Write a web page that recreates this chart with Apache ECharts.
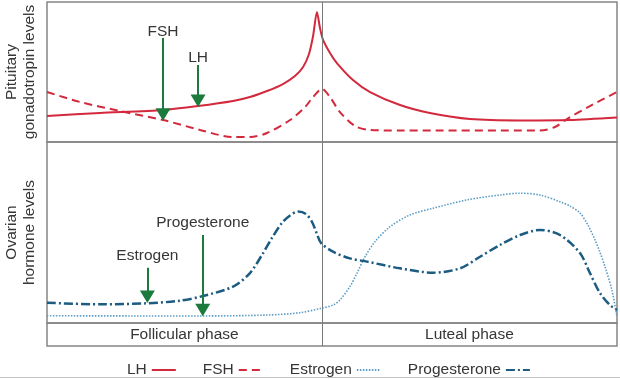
<!DOCTYPE html>
<html>
<head>
<meta charset="utf-8">
<script src="https://cdn.jsdelivr.net/npm/echarts@6/dist/echarts.min.js"></script>
<style>
html,body{margin:0;padding:0;background:#fff;}
#chart{width:620px;height:379px;}
</style>
</head>
<body>
<div id="chart"></div>
<script>
// ---- data (cycle day, relative level 0-100) ----
const cycleStart = 0;
const cycleEnd = 28;
const phaseBoundary = 13.5;
const phaseLabels = ['Follicular phase', 'Luteal phase'];
const legendNames = ['LH', 'FSH', 'Estrogen', 'Progesterone'];
const topAxisName = 'Pituitary\ngonadotropin levels';
const bottomAxisName = 'Ovarian\nhormone levels';

const lhDays = [0, 2.60, 5.70, 7.42, 9.14, 9.97, 10.81, 11.59, 12.18, 12.58, 12.87, 13.07, 13.26, 13.41, 13.56, 13.90, 14.24, 15.03, 15.87, 17.34, 18.81, 20.78, 23.24, 25.69, 28];
const lhLevels = [18.6, 20.7, 22.9, 25.7, 29.3, 32.1, 36.4, 41.4, 47.1, 53.6, 62.9, 75.7, 92.9, 81.4, 72.9, 63.6, 56.4, 44.3, 35.7, 26.4, 20.7, 16.4, 15.4, 15.7, 17.5];

const fshDays = [0, 1.62, 3.59, 5.70, 7.52, 9.14, 9.97, 10.81, 11.94, 12.68, 13.07, 13.51, 13.90, 14.39, 15.13, 15.87, 17.34, 24.22, 24.95, 25.54, 26.67, 28];
const fshLevels = [35.7, 28.6, 22.1, 15.7, 8.6, 3.6, 3.6, 6.4, 15.7, 25.0, 32.1, 37.9, 32.1, 21.4, 11.4, 8.6, 8.2, 8.2, 10.7, 16.4, 25.7, 35.7];

const estrogenDays = [0, 4.91, 7.52, 10.81, 12.43, 13.46, 14.05, 14.39, 14.88, 15.23, 15.62, 16.11, 16.85, 17.83, 18.96, 20.63, 22.25, 23.24, 24.22, 25.20, 25.69, 26.18, 26.57, 26.92, 27.16, 27.41, 27.75, 28];
const estrogenLevels = [4.0, 3.9, 3.9, 4.4, 5.7, 8.1, 9.9, 12.7, 20.1, 27.6, 36.6, 44.9, 53.2, 59.7, 63.4, 68.0, 70.7, 71.7, 70.7, 67.0, 64.6, 60.8, 54.1, 45.9, 39.2, 31.1, 18.2, 3.5];

const progDays = [0, 2.60, 4.91, 6.53, 7.66, 9.14, 9.97, 10.56, 11.05, 11.54, 11.94, 12.33, 12.72, 13.02, 13.26, 13.46, 14.05, 14.88, 15.72, 17.34, 18.96, 20.29, 21.27, 22.25, 23.24, 24.22, 25.20, 26.18, 26.67, 27.16, 27.65, 28];
const progLevels = [11.2, 10.3, 10.9, 12.3, 14.9, 20.1, 27.6, 37.6, 47.0, 55.3, 59.4, 61.6, 60.2, 55.8, 49.2, 44.2, 39.4, 35.7, 33.9, 30.2, 27.8, 30.2, 36.6, 43.1, 48.6, 51.4, 48.6, 38.7, 27.6, 16.6, 9.9, 7.2];

// annotation arrows
const topArrowLabels = ['FSH', 'LH'];
const topArrowDays = [5.70, 7.42];
const topArrowFrom = [74.3, 55.0];
const topArrowHead = [19.6, 29.5];
const topArrowText = [78.6, 60.0];

const botArrowLabels = ['Estrogen', 'Progesterone'];
const botArrowDays = [4.93, 7.65];
const botArrowFrom = [30.5, 48.6];
const botArrowHead = [14.5, 7.2];
const botArrowText = [37.0, 55.2];

// ---- styles ----
const FONT = 'Liberation Sans, Arial, sans-serif';
const TXT = '#363636';
const FRAME = '#858585';
const RED = '#d3293d';
const DARKBLUE = '#1c5b82';
const LIGHTBLUE = '#5a9cc6';
const GREEN = '#1b7a3c';
const FS = 15.5;

const zip = (xs, ys) => xs.map((x, i) => [x, ys[i]]);

function arrowMarks(labels, days, from, head, textAt) {
  const lines = labels.map((l, i) => [
    { coord: [days[i], from[i]] },
    { coord: [days[i], head[i]] }
  ]);
  const heads = labels.map((l, i) => ({
    coord: [days[i], head[i]],
    symbol: 'triangle',
    symbolSize: [15, 12.5],
    symbolRotate: 180,
    itemStyle: { color: GREEN },
    label: { show: false }
  }));
  const texts = labels.map((l, i) => ({
    coord: [days[i], textAt[i]],
    symbol: 'rect',
    symbolSize: 1,
    itemStyle: { color: 'rgba(0,0,0,0)' },
    label: { show: true, position: 'inside', formatter: l, color: TXT, fontSize: FS, fontFamily: FONT }
  }));
  return { lines, points: heads.concat(texts) };
}

const topArrows = arrowMarks(topArrowLabels, topArrowDays, topArrowFrom, topArrowHead, topArrowText);
const botArrows = arrowMarks(botArrowLabels, botArrowDays, botArrowFrom, botArrowHead, botArrowText);

const dividerLine = {
  silent: true,
  symbol: ['none', 'none'],
  label: { show: false },
  lineStyle: { color: '#7a7a7a', width: 1, type: 'solid' },
  data: [{ xAxis: phaseBoundary }]
};

function arrowMarkLine(lines) {
  return {
    silent: true,
    symbol: ['none', 'none'],
    label: { show: false },
    lineStyle: { color: GREEN, width: 2, type: 'solid' },
    data: lines.concat([{ xAxis: phaseBoundary, lineStyle: { color: '#7a7a7a', width: 1 } }])
  };
}

const gridLeft = 47, gridWidth = 570;
const hiddenX = (i) => ({ type: 'value', gridIndex: i, min: cycleStart, max: cycleEnd, show: false });
const yAx = (i, name) => ({
  type: 'value', gridIndex: i, min: 0, max: 100,
  axisLine: { show: false }, axisTick: { show: false }, axisLabel: { show: false }, splitLine: { show: false },
  name: name, nameLocation: 'middle', nameRotate: 90, nameGap: 8,
  nameTextStyle: { fontSize: FS, lineHeight: 18, color: TXT, fontFamily: FONT }
});
const gridBase = { left: gridLeft, width: gridWidth, show: true, borderColor: FRAME, borderWidth: 1.5, backgroundColor: 'transparent', containLabel: false, outerBoundsMode: 'none' };

const option = {
  animation: false,
  backgroundColor: '#fff',
  textStyle: { fontFamily: FONT },
  grid: [
    Object.assign({ top: 2, height: 140 }, gridBase),
    Object.assign({ top: 142, height: 181 }, gridBase),
    Object.assign({ top: 323, height: 23 }, gridBase)
  ],
  xAxis: [hiddenX(0), hiddenX(1), hiddenX(2)],
  yAxis: [
    yAx(0, topAxisName),
    yAx(1, bottomAxisName),
    { type: 'value', gridIndex: 2, min: 0, max: 1, show: false }
  ],
  legend: {
    data: legendNames,
    left: 127, top: 362, padding: 0,
    align: 'right',
    itemWidth: 24, itemHeight: 14, itemGap: 26,
    itemStyle: { opacity: 0 },
    textStyle: { fontSize: FS, color: TXT, fontFamily: FONT }
  },
  graphic: [
    { type: 'line', shape: { x1: 0, y1: 377.5, x2: 620, y2: 377.5 }, style: { stroke: '#c4c4c4', lineWidth: 1 }, silent: true }
  ],
  series: [
    {
      name: 'LH', type: 'line', xAxisIndex: 0, yAxisIndex: 0,
      data: zip(lhDays, lhLevels), smooth: 0.25, symbol: 'none',
      lineStyle: { color: RED, width: 2 }, itemStyle: { color: RED },
      markLine: arrowMarkLine(topArrows.lines),
      markPoint: { silent: true, data: topArrows.points }
    },
    {
      name: 'FSH', type: 'line', xAxisIndex: 0, yAxisIndex: 0,
      data: zip(fshDays, fshLevels), smooth: 0.3, symbol: 'none',
      lineStyle: { color: RED, width: 2, type: [8, 5] }, itemStyle: { color: RED }
    },
    {
      name: 'Estrogen', type: 'line', xAxisIndex: 1, yAxisIndex: 1,
      data: zip(estrogenDays, estrogenLevels), smooth: 0.3, symbol: 'none',
      lineStyle: { color: LIGHTBLUE, width: 1.6, type: [1.5, 1.5] }, itemStyle: { color: LIGHTBLUE }
    },
    {
      name: 'Progesterone', type: 'line', xAxisIndex: 1, yAxisIndex: 1,
      data: zip(progDays, progLevels), smooth: 0.3, symbol: 'none',
      lineStyle: { color: DARKBLUE, width: 2.5, type: [9, 3, 2, 3] }, itemStyle: { color: DARKBLUE },
      markLine: arrowMarkLine(botArrows.lines),
      markPoint: { silent: true, data: botArrows.points }
    },
    {
      name: 'phases', type: 'line', xAxisIndex: 2, yAxisIndex: 2,
      data: [], symbol: 'none',
      markLine: dividerLine,
      markArea: {
        silent: true,
        itemStyle: { color: 'rgba(0,0,0,0)' },
        label: { show: true, position: 'inside', color: TXT, fontSize: FS, fontFamily: FONT },
        data: [
          [{ xAxis: cycleStart, name: phaseLabels[0] }, { xAxis: phaseBoundary }],
          [{ xAxis: phaseBoundary, name: phaseLabels[1] }, { xAxis: cycleEnd }]
        ]
      }
    }
  ]
};

const chart = echarts.init(document.getElementById('chart'), null, { renderer: 'canvas' });
chart.setOption(option);
</script>
</body>
</html>
